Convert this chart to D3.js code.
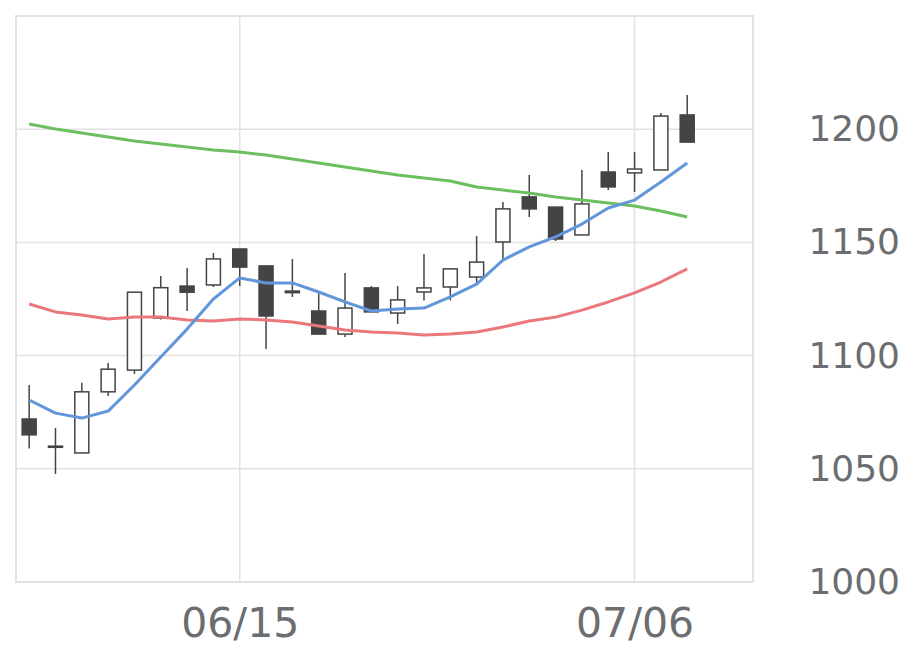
<!DOCTYPE html>
<html>
<head>
<meta charset="utf-8">
<script src="https://cdn.jsdelivr.net/npm/d3@7"></script>
<style>
  body { margin: 0; background: #fff; }
  svg { display: block; }
</style>
</head>
<body>
<div id="chart"></div>
<script>
// daily candles (2020, weekdays)
var dates = ['06/03', '06/04', '06/05', '06/08', '06/09', '06/10', '06/11', '06/12',
  '06/15', '06/16', '06/17', '06/18', '06/19', '06/22', '06/23', '06/24', '06/25', '06/26',
  '06/29', '06/30', '07/01', '07/02', '07/03', '07/06', '07/07', '07/08']
var open = [1072, 1060, 1057, 1084, 1093.6, 1116.6, 1130.7, 1131.2, 1147.1, 1139.6, 1128.5,
  1119.7, 1109.5, 1129.9, 1118.8, 1128.1, 1130.3, 1134.7, 1150.2, 1170.1, 1165.6, 1153.3,
  1181.1, 1180.7, 1182.0, 1206.3]
var high = [1087, 1068, 1088, 1096.7, 1128.1, 1135.2, 1138.7, 1145.3, 1147.1, 1139.6, 1142.7,
  1127.7, 1136.5, 1130.7, 1130.7, 1144.9, 1138.7, 1152.8, 1167.8, 1179.8, 1165.6, 1182,
  1189.9, 1189.9, 1207.2, 1215.1]
var low = [1059, 1047.7, 1057, 1082.2, 1091.9, 1116, 1119.7, 1130.3, 1130.7, 1102.9, 1125.9,
  1109.5, 1108.2, 1119.3, 1114, 1124.3, 1124.4, 1132.1, 1141.8, 1161.2, 1150.6, 1153.3,
  1173.1, 1172.3, 1182, 1194.3]
var close = [1065, 1059.5, 1084, 1094, 1128, 1130, 1128, 1142.7, 1139.1, 1117.5, 1127.8,
  1109.5, 1121, 1119.3, 1124.6, 1129.9, 1138.3, 1141.3, 1164.8, 1164.8, 1151.5, 1167,
  1174.5, 1182.4, 1205.8, 1194.3]

// moving averages
var ma5 = [1080.4, 1074.6, 1072.4, 1075.5, 1087, 1099.4, 1111.7, 1125, 1134.3, 1132.1, 1132.1,
  1128.1, 1123.7, 1119.7, 1120.6, 1121, 1125.9, 1131.6, 1142.2, 1148, 1152.4, 1158.1,
  1165.2, 1168.7, 1176.7, 1185.1]
var ma25 = [1122.8, 1119.3, 1117.9, 1116.2, 1117, 1117, 1115.7, 1115.3, 1116.2, 1115.7, 1114.8,
  1113.1, 1111.3, 1110.4, 1110, 1109.1, 1109.5, 1110.4, 1112.6, 1115.3, 1117, 1120.1,
  1123.7, 1127.7, 1132.5, 1138.3]
var ma75 = [1202.3, 1200.1, 1198.3, 1196.6, 1194.8, 1193.5, 1192.1, 1190.8, 1189.9, 1188.6, 1186.8,
  1185.1, 1183.3, 1181.5, 1179.8, 1178.4, 1177.1, 1174.5, 1173.1, 1171.8, 1170.1, 1168.7,
  1167.4, 1166.1, 1163.9, 1161.2]

var yTicks = [1000, 1050, 1100, 1150, 1200]
var xTicks = ['06/15', '07/06']

var width = 920
var height = 669
var plot = { left: 16, right: 753, top: 16, bottom: 582 }

var svg = d3.select('#chart')
  .append('svg')
  .attr('width', width)
  .attr('height', height)

// scales (two empty slots on the right)
var xPositionScale = d3.scaleLinear()
  .domain([-0.5, 27.5])
  .range([plot.left, plot.right])
var yPositionScale = d3.scaleLinear()
  .domain([1000, 1250])
  .range([plot.bottom, plot.top])

var gridColor = '#e2e2e2'
var textColor = '#6b6d70'
var candleColor = '#444444'

// grid
svg.append('g')
  .selectAll('line')
  .data(yTicks.slice(1))
  .enter()
  .append('line')
  .attr('x1', plot.left)
  .attr('x2', plot.right)
  .attr('y1', d => yPositionScale(d))
  .attr('y2', d => yPositionScale(d))
  .attr('stroke', gridColor)
  .attr('stroke-width', 1.5)

svg.append('g')
  .selectAll('line')
  .data(xTicks)
  .enter()
  .append('line')
  .attr('x1', d => xPositionScale(dates.indexOf(d)))
  .attr('x2', d => xPositionScale(dates.indexOf(d)))
  .attr('y1', plot.top)
  .attr('y2', plot.bottom)
  .attr('stroke', gridColor)
  .attr('stroke-width', 1.5)

svg.append('rect')
  .attr('x', plot.left)
  .attr('y', plot.top)
  .attr('width', plot.right - plot.left)
  .attr('height', plot.bottom - plot.top)
  .attr('fill', 'none')
  .attr('stroke', gridColor)
  .attr('stroke-width', 2)

// axes
var yAxis = d3.axisRight(yPositionScale)
  .tickValues(yTicks)
  .tickFormat(d3.format('d'))
  .tickSize(0)
  .tickPadding(0)
svg.append('g')
  .attr('class', 'axis y-axis')
  .attr('transform', 'translate(900,0)')
  .call(yAxis)
  .call(g => g.select('.domain').remove())
  .selectAll('text')
  .attr('text-anchor', 'end')
  .attr('x', 0)
  .attr('dy', '0.32em')
  .attr('fill', textColor)
  .attr('font-size', 36)
  .attr('font-family', 'DejaVu Sans')

var xAxis = d3.axisBottom(xPositionScale)
  .tickValues(xTicks.map(d => dates.indexOf(d)))
  .tickFormat(i => dates[i])
  .tickSize(0)
  .tickPadding(0)
svg.append('g')
  .attr('class', 'axis x-axis')
  .attr('transform', 'translate(0,' + plot.bottom + ')')
  .call(xAxis)
  .call(g => g.select('.domain').remove())
  .selectAll('text')
  .attr('y', 55)
  .attr('dy', 0)
  .attr('fill', textColor)
  .attr('font-size', 41)
  .attr('font-family', 'DejaVu Sans')

// moving average lines
var lines = [
  { values: ma75, color: '#6cbf5f' },
  { values: ma25, color: '#ea777b' },
  { values: ma5, color: '#6196d9' }
]
var line = d3.line()
  .x((d, i) => xPositionScale(i))
  .y(d => yPositionScale(d))

// candles
var candleW = 14
var candles = svg.append('g')
  .selectAll('g')
  .data(dates)
  .enter()
  .append('g')

candles.append('line')
  .attr('x1', (d, i) => xPositionScale(i))
  .attr('x2', (d, i) => xPositionScale(i))
  .attr('y1', (d, i) => yPositionScale(high[i]))
  .attr('y2', (d, i) => yPositionScale(low[i]))
  .attr('stroke', candleColor)
  .attr('stroke-width', 1.5)

candles.append('rect')
  .attr('x', (d, i) => xPositionScale(i) - candleW / 2)
  .attr('y', (d, i) => yPositionScale(Math.max(open[i], close[i])))
  .attr('width', candleW)
  .attr('height', (d, i) => Math.max(1, Math.abs(yPositionScale(open[i]) - yPositionScale(close[i]))))
  .attr('fill', (d, i) => close[i] < open[i] ? candleColor : '#fff')
  .attr('stroke', candleColor)
  .attr('stroke-width', 1.5)

svg.append('g')
  .selectAll('path')
  .data(lines)
  .enter()
  .append('path')
  .attr('d', d => line(d.values))
  .attr('fill', 'none')
  .attr('stroke', d => d.color)
  .attr('stroke-width', 3)
  .attr('stroke-linejoin', 'round')
</script>
</body>
</html>
